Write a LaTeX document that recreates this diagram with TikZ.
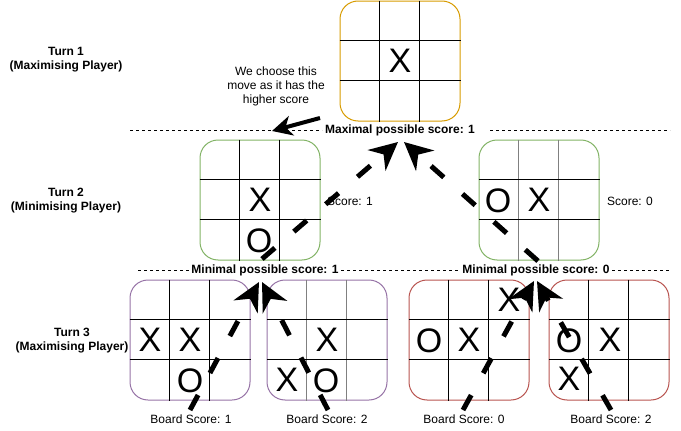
\documentclass[tikz,border=0pt]{standalone}
\usepackage{fontspec}
\setmainfont{Liberation Sans}
\usetikzlibrary{arrows.meta,calc}
\definecolor{orangeb}{HTML}{D79B00}
\definecolor{greenb}{HTML}{82B366}
\definecolor{purpleb}{HTML}{9673A6}
\definecolor{redb}{HTML}{B85450}
\definecolor{gridgray}{HTML}{808080}
\tikzset{
  board/.style={draw, rounded corners=18pt, minimum width=120pt, minimum height=120pt, inner sep=0pt, line width=1pt},
  gridline/.style={line width=1pt},
  glyph/.style={inner sep=0pt, font=\fontsize{34}{34}\selectfont},
  lbl/.style={inner sep=0pt, font=\fontsize{12}{14}\selectfont, align=center},
  blbl/.style={inner sep=0pt, font=\fontsize{12}{14}\selectfont\bfseries, align=center},
  thindash/.style={line width=1pt, dash pattern=on 3pt off 3pt},
  movearrow/.style={line width=5pt, dash pattern=on 17pt off 25pt, -{Stealth[length=28pt,width=27pt,inset=9pt]}},
  notearrow/.style={line width=4pt, -{Stealth[length=20pt,width=20pt,inset=6pt]}},
}
\newcommand\tttboard[5]{%
  \node[board, draw=#4] (#1) at (#2+60,#3+60) {};
  \draw[gridline, draw=#5] ($(#1.north west)+(40,0)$) -- ($(#1.south west)+(40,0)$);
  \draw[gridline, draw=#5] ($(#1.north west)+(80,0)$) -- ($(#1.south west)+(80,0)$);
  \draw[gridline] ($(#1.north west)+(0,40)$) -- ($(#1.north east)+(0,40)$);
  \draw[gridline] ($(#1.north west)+(0,80)$) -- ($(#1.north east)+(0,80)$);
}
\begin{document}
\begin{tikzpicture}[x=1pt,y=-1pt]
\useasboundingbox (0,0) rectangle (681,431);
% boards
\tttboard{top}{340}{1}{orangeb}{black}
\tttboard{ml}{200}{140}{greenb}{black}
\tttboard{mr}{479}{140}{greenb}{gridgray}
\tttboard{ba}{130}{280}{purpleb}{black}
\tttboard{bb}{267}{280}{purpleb}{gridgray}
\tttboard{bc}{409}{280}{redb}{black}
\tttboard{bd}{549}{280}{redb}{black}
% marks
\node[glyph] (tx) at (400,61) {X};
\node[glyph] (mlx) at (260,200) {X};
\node[glyph] (mlo) at (259,241) {O};
\node[glyph] (mro) at (498,201) {O};
\node[glyph] (mrx) at (539,200) {X};
\node[glyph] (bax1) at (150,340) {X};
\node[glyph] (bax2) at (190,340) {X};
\node[glyph] (bao) at (190,381) {O};
\node[glyph] (bbx1) at (327,340) {X};
\node[glyph] (bbx2) at (287,380) {X};
\node[glyph] (bbo) at (326,381) {O};
\node[glyph] (bco) at (429,341) {O};
\node[glyph] (bcx1) at (469,340) {X};
\node[glyph] (bcx2) at (509,300) {X};
\node[glyph] (bdo) at (569,341) {O};
\node[glyph] (bdx1) at (610,340) {X};
\node[glyph] (bdx2) at (569,379) {X};
% turn labels
\node[blbl] (turn1) at (66,59.5) {Turn 1\\(Maximising Player)};
\node[blbl] (turn2) at (66,201) {Turn 2\\(Minimising Player)};
\node[blbl] (turn3) at (72,340.5) {Turn 3\\(Maximising Player)};
% score lines
\node[blbl] (maxlbl) at (400,130) {Maximal possible score: 1};
\node[blbl] (min1) at (265,270) {Minimal possible score: 1};
\node[blbl] (min0) at (536,270) {Minimal possible score: 0};
\coordinate (maxa) at (130,130);
\coordinate (maxb) at (322,130);
\coordinate (maxc) at (490,130);
\coordinate (maxd) at (670,130);
\coordinate (mina) at (138,270);
\coordinate (minb) at (189,270);
\coordinate (minc) at (341,270);
\coordinate (mind) at (459,270);
\coordinate (mine) at (612,270);
\coordinate (minf) at (670,270);
\draw[thindash] (maxa) -- (maxb);
\draw[thindash] (maxc) -- (maxd);
\draw[thindash] (mina) -- (minb);
\draw[thindash] (minc) -- (mind);
\draw[thindash] (mine) -- (minf);
% other labels
\node[lbl] (note) at (276,86) {We choose this\\move as it has the\\higher score};
\node[lbl] (sc1) at (350,201) {Score: 1};
\node[lbl] (sc0) at (630,201) {Score: 0};
\node[lbl] (bs1) at (191,419) {Board Score: 1};
\node[lbl] (bs2) at (327,419) {Board Score: 2};
\node[lbl] (bs3) at (464,419) {Board Score: 0};
\node[lbl] (bs4) at (611,419) {Board Score: 2};
% arrows
\coordinate (s1) at (262,259);
\coordinate (t1) at (398,142);
\coordinate (s2) at (538,261);
\coordinate (t2) at (404,142);
\coordinate (s3) at (190,410);
\coordinate (t3) at (259,282);
\coordinate (s4) at (328,410);
\coordinate (t4) at (262,282);
\coordinate (s5) at (463,410);
\coordinate (t5) at (534,281);
\coordinate (s6) at (611,410);
\coordinate (t6) at (537,281);
\coordinate (ns) at (320,118);
\coordinate (nt) at (272,131);
\draw[movearrow] (s1) -- (t1);
\draw[movearrow] (s2) -- (t2);
\draw[movearrow] (s3) -- (t3);
\draw[movearrow] (s4) -- (t4);
\draw[movearrow] (s5) -- (t5);
\draw[movearrow] (s6) -- (t6);
\draw[notearrow] (ns) -- (nt);
\end{tikzpicture}
\end{document}
